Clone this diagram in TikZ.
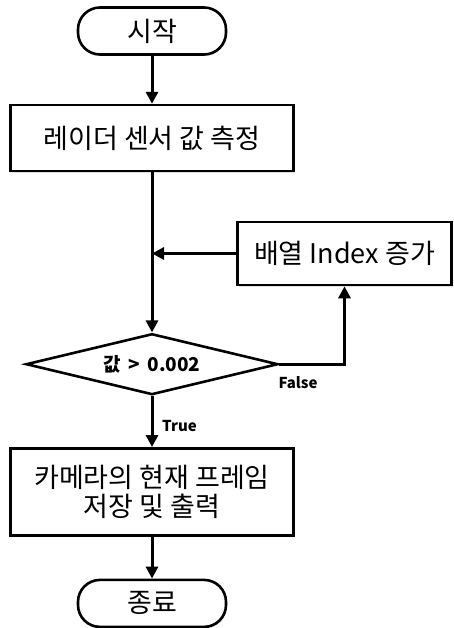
\documentclass[tikz,border=0pt]{standalone}
\usepackage{fontspec}
\setmainfont{Noto Sans CJK KR}
\usetikzlibrary{shapes.geometric, arrows.meta, positioning, shadows}
\definecolor{colBorder}{RGB}{0,0,0}
\tikzset{
    term/.style={rectangle, draw=colBorder, fill=white, line width=2.6pt, rounded corners=22pt,
        minimum width=148pt, minimum height=47pt, inner sep=0pt, font=\fontsize{27}{29}\selectfont,
        drop shadow={shadow xshift=1pt, shadow yshift=-1.5pt, opacity=0.25}},
    process/.style={rectangle, draw=colBorder, fill=white, line width=2.6pt,
        minimum width=283pt, minimum height=66pt, align=center, inner sep=0pt,
        font=\fontsize{27}{29}\selectfont,
        drop shadow={shadow xshift=1pt, shadow yshift=-1.5pt, opacity=0.25}},
    decision/.style={diamond, draw=colBorder, fill=white, line width=2.6pt, inner sep=0pt,
        shape aspect=4.1, minimum width=252pt, minimum height=61pt,
        font=\fontsize{19}{21}\selectfont\bfseries},
    branch/.style={font=\fontsize{15}{17}\selectfont\bfseries, inner sep=0pt},
    arrow/.style={-{Triangle[length=12pt, width=12pt]}, line width=3pt}
}

\begin{document}
\begin{tikzpicture}[x=1pt, y=1pt]
    \useasboundingbox (0,0) rectangle (454,-628);

    \node[term] (start) at (152,-31) {시작};
    \node[process, below=48pt of start] (sense) {레이더 센서 값 측정};
    \node[decision, below=160pt of sense] (check) {값 \,>\, 0.002};
    \node[process, minimum width=214pt, minimum height=63pt] (index) at (344.5,-253.5) {배열 Index 증가};
    \node[process, minimum height=87pt, below=51pt of check] (save) {카메라의 현재 프레임\\저장 및 출력};
    \node[term, below=42pt of save] (stop) {종료};

    \node[branch, anchor=north west] (lfalse) at ([xshift=-1pt, yshift=-12pt]check.east) {False};
    \node[branch, anchor=west] (ltrue) at ([xshift=10pt, yshift=-30pt]check.south) {True};

    \draw[arrow] (start) -- (sense);
    \draw[arrow] (sense) -- (check);
    \draw[arrow] (check.east) -| (index.south);
    \draw[arrow] (index.west) -- (index.west -| sense.south);
    \draw[arrow] (check) -- (save);
    \draw[arrow] (save) -- (stop);

\end{tikzpicture}
\end{document}
